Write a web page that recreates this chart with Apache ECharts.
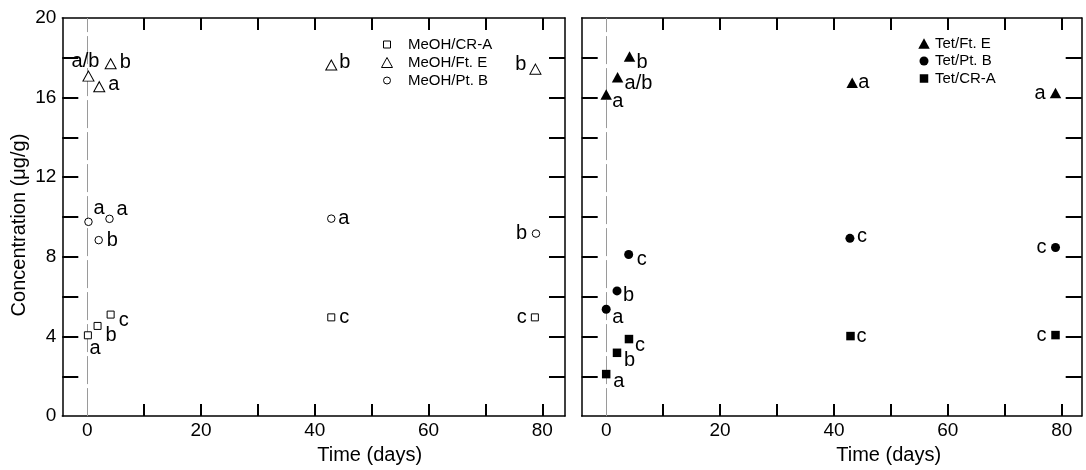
<!DOCTYPE html>
<html>
<head>
<meta charset="utf-8">
<script src="https://cdn.jsdelivr.net/npm/echarts@6/dist/echarts.min.js"></script>
<style>
html,body{margin:0;padding:0;background:#fff;}
#chart{width:1086px;height:470px;}
</style>
</head>
<body>
<div id="chart"></div>
<script>
// ---- data ----
const xTickLabels = [0, 20, 40, 60, 80];
const xMinorTicks = [10, 20, 30, 40, 50, 60, 70, 80];
const yTickLabels = [0, 4, 8, 12, 16, 20];
const yMinorTicks = [2, 4, 6, 8, 10, 12, 14, 16, 18];

// Left panel (MeOH)
const meohCRA_t = [0.1, 1.8, 4.1, 42.9, 78.7];
const meohCRA_c = [4.06, 4.53, 5.10, 4.96, 4.96];
const meohCRA_sig = ['a', 'b', 'c', 'c', 'c'];

const meohFtE_t = [0.2, 2.1, 4.1, 42.9, 78.8];
const meohFtE_c = [17.08, 16.55, 17.70, 17.64, 17.43];
const meohFtE_sig = ['a/b', 'a', 'b', 'b', 'b'];

const meohPtB_t = [0.2, 2.0, 3.9, 42.9, 78.9];
const meohPtB_c = [9.76, 8.84, 9.91, 9.92, 9.17];
const meohPtB_sig = ['a', 'b', 'a', 'a', 'b'];

// Right panel (Tet)
const tetFtE_t = [0.0, 2.0, 4.1, 43.2, 78.9];
const tetFtE_c = [16.16, 17.02, 18.07, 16.75, 16.23];
const tetFtE_sig = ['a', 'a/b', 'b', 'a', 'a'];

const tetPtB_t = [0.0, 1.9, 3.95, 42.8, 78.9];
const tetPtB_c = [5.37, 6.29, 8.12, 8.93, 8.47];
const tetPtB_sig = ['a', 'b', 'c', 'c', 'c'];

const tetCRA_t = [0.0, 1.9, 4.0, 42.9, 78.9];
const tetCRA_c = [2.11, 3.18, 3.87, 4.02, 4.07];
const tetCRA_sig = ['a', 'b', 'c', 'c', 'c'];

// ---- label placement (style only): [align, dx, dy] ----
const placeMeohFtE = [['center', -3, -15], ['left', 9, -2], ['left', 9, -1], ['left', 8, -2], ['right', -9, -5]];
const placeMeohPtB = [['left', 5, -13], ['left', 8, 0], ['left', 7, -9], ['left', 7, 0], ['right', -9, 0]];
const placeMeohCRA = [['left', 1.5, 13], ['left', 8, 10], ['left', 8, 6], ['left', 8, 0], ['right', -8, 0]];
const placeTetFtE = [['left', 6, 7], ['left', 7, 6], ['left', 7, 6], ['left', 6, 0], ['right', -10, 0]];
const placeTetPtB = [['left', 6, 8], ['left', 6, 5], ['left', 8, 5], ['left', 7, -2], ['right', -9, 0]];
const placeTetCRA = [['left', 7, 7], ['left', 7, 8], ['left', 6, 6], ['left', 6, 0], ['right', -9, 0]];

const FONT = 'Liberation Sans, Arial, Helvetica, sans-serif';

function buildData(ts, cs, sig, place) {
  return ts.map((t, i) => ({
    value: [t, cs[i]],
    label: {
      formatter: sig[i],
      align: place[i][0],
      offset: [place[i][1], place[i][2]]
    }
  }));
}

function series(name, xi, ts, cs, sig, place, symbol, size, filled, withLine) {
  const s = {
    name: name,
    type: 'scatter',
    xAxisIndex: xi,
    yAxisIndex: xi,
    symbol: symbol,
    symbolSize: size,
    itemStyle: filled
      ? { color: '#000', borderColor: '#000', borderWidth: 0, opacity: 1 }
      : { color: '#fff', borderColor: '#000', borderWidth: 1, opacity: 1 },
    label: {
      show: true,
      position: 'inside',
      verticalAlign: 'middle',
      color: '#000',
      fontFamily: FONT,
      fontSize: 20,
      textBorderWidth: 0
    },
    emphasis: { disabled: true },
    z: 3,
    data: buildData(ts, cs, sig, place)
  };
  if (withLine) {
    s.markLine = {
      silent: true,
      symbol: 'none',
      label: { show: false },
      lineStyle: { color: '#9a9a9a', type: [28, 4], width: 1 },
      data: [{ xAxis: 0 }],
      z: 1
    };
  }
  return s;
}

function xAxisDef(gi, pos, min, max, showLabel, namePad) {
  return {
    type: 'value', gridIndex: gi, position: pos, min: min, max: max,
    axisLine: { show: true, onZero: false, lineStyle: { color: '#000', width: 1.5 } },
    axisTick: { show: true, inside: true, length: 12, customValues: xMinorTicks, lineStyle: { color: '#000', width: 2 } },
    axisLabel: { show: showLabel, customValues: xTickLabels, color: '#000', fontSize: 19, fontFamily: FONT, margin: 5 },
    splitLine: { show: false },
    name: showLabel ? 'Time (days)' : '',
    nameLocation: 'middle',
    nameGap: 25,
    nameTextStyle: { color: '#000', fontSize: 20, fontFamily: FONT, padding: [0, 0, 0, namePad] }
  };
}

function yAxisDef(gi, pos, showLabel, withName) {
  return {
    type: 'value', gridIndex: gi, position: pos, min: 0, max: 20,
    axisLine: { show: true, onZero: false, lineStyle: { color: '#000', width: 1.5 } },
    axisTick: { show: true, inside: true, length: 16, customValues: yMinorTicks, lineStyle: { color: '#000', width: 2 } },
    axisLabel: { show: showLabel, customValues: yTickLabels, color: '#000', fontSize: 19, fontFamily: FONT, margin: 6 },
    splitLine: { show: false },
    name: withName ? 'Concentration (μg/g)' : '',
    nameLocation: 'middle',
    nameGap: 33,
    nameTextStyle: { color: '#000', fontSize: 20, fontFamily: FONT, padding: [0, 16, 0, 0] }
  };
}

// legend icons (hollow set smaller, filled set sized like the plot markers)
const sqIcon = 'path://M0,0M2.5,2.5L9.5,2.5L9.5,9.5L2.5,9.5ZM12,12';
const ciIcon = 'path://M0,0M2.5,6A3.5,3.5,0,1,0,9.5,6A3.5,3.5,0,1,0,2.5,6ZM12,12';
const trIcon = 'path://M0,0M6,1L11.5,11L0.5,11ZM12,12';
const sqIconF = 'path://M0,0M1.75,1.75L10.25,1.75L10.25,10.25L1.75,10.25ZM12,12';
const ciIconF = 'path://M0,0M1.5,6A4.5,4.5,0,1,0,10.5,6A4.5,4.5,0,1,0,1.5,6ZM12,12';
const trIconF = 'path://M0,0M6,0.75L11.75,11.25L0.25,11.25ZM12,12';

const option = {
  backgroundColor: '#fff',
  animation: false,
  textStyle: { fontFamily: FONT },
  grid: [
    { left: 62.3, right: 521, top: 18, bottom: 53 },
    { left: 581.7, right: 4.3, top: 18, bottom: 53 }
  ],
  xAxis: [
    xAxisDef(0, 'bottom', -4.4, 84, true, 112),
    xAxisDef(1, 'bottom', -4.3, 83.5, true, 114),
    xAxisDef(0, 'top', -4.4, 84, false, 0),
    xAxisDef(1, 'top', -4.3, 83.5, false, 0)
  ],
  yAxis: [
    yAxisDef(0, 'left', true, true),
    yAxisDef(1, 'left', false, false),
    yAxisDef(0, 'right', false, false),
    yAxisDef(1, 'right', false, false)
  ],
  legend: [
    {
      orient: 'vertical', left: 380.5, top: 37, padding: 0, itemGap: 3,
      itemWidth: 12, itemHeight: 12, selectedMode: false,
      itemStyle: { borderWidth: 1 },
      textStyle: { color: '#000', fontSize: 15, fontFamily: FONT, padding: [0, 0, 0, 10] },
      data: [
        { name: 'MeOH/CR-A', icon: sqIcon },
        { name: 'MeOH/Ft. E', icon: trIcon },
        { name: 'MeOH/Pt. B', icon: ciIcon }
      ]
    },
    {
      orient: 'vertical', left: 918, top: 36, padding: 0, itemGap: 2.5,
      itemWidth: 12, itemHeight: 12, selectedMode: false,
      itemStyle: { borderWidth: 0 },
      textStyle: { color: '#000', fontSize: 15, fontFamily: FONT },
      data: [
        { name: 'Tet/Ft. E', icon: trIconF },
        { name: 'Tet/Pt. B', icon: ciIconF },
        { name: 'Tet/CR-A', icon: sqIconF }
      ]
    }
  ],
  series: [
    series('MeOH/CR-A', 0, meohCRA_t, meohCRA_c, meohCRA_sig, placeMeohCRA, 'rect', 7, false, true),
    series('MeOH/Ft. E', 0, meohFtE_t, meohFtE_c, meohFtE_sig, placeMeohFtE, 'triangle', [11, 10], false, false),
    series('MeOH/Pt. B', 0, meohPtB_t, meohPtB_c, meohPtB_sig, placeMeohPtB, 'circle', 7.5, false, false),
    series('Tet/Ft. E', 1, tetFtE_t, tetFtE_c, tetFtE_sig, placeTetFtE, 'triangle', [11.5, 10.5], true, true),
    series('Tet/Pt. B', 1, tetPtB_t, tetPtB_c, tetPtB_sig, placeTetPtB, 'circle', 9, true, false),
    series('Tet/CR-A', 1, tetCRA_t, tetCRA_c, tetCRA_sig, placeTetCRA, 'rect', 8.5, true, false)
  ]
};

const chart = echarts.init(document.getElementById('chart'), null, { renderer: 'canvas' });
chart.setOption(option);
</script>
</body>
</html>
